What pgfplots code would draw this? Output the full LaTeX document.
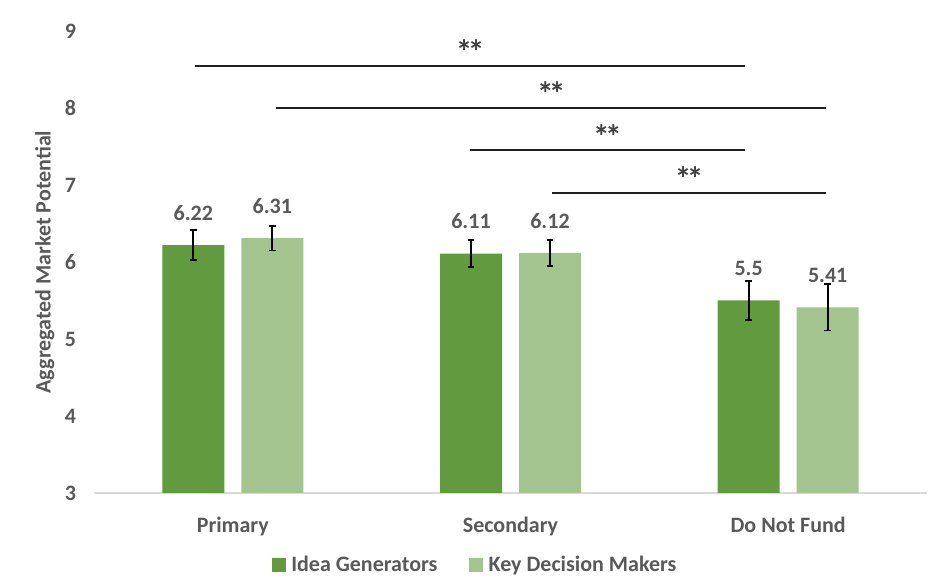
\documentclass[border=0pt]{standalone}
\usepackage{fontspec}
\setmainfont{Carlito}
\usepackage{pgfplots}
\pgfplotsset{compat=1.18}

\definecolor{ideagreen}{HTML}{629B3F}
\definecolor{keygreen}{HTML}{A3C48F}
\definecolor{txt}{HTML}{595959}
\definecolor{startxt}{HTML}{404040}
\definecolor{axgray}{HTML}{D9D9D9}
\definecolor{sig}{HTML}{1F1F1F}

\newcommand{\lbl}{\fontsize{16.5}{19}\selectfont\bfseries}
\newcommand{\sigfont}{\fontsize{25}{28}\selectfont\bfseries}
\newcommand{\sigstars}{*\kern-3.5pt*}

\pgfplotsset{
  barplot/.style={
    draw=none, nodes near coords,
    every node near coord/.append style={font=\lbl, text=txt, anchor=base, yshift=18.5pt},
    error bars/.cd, y dir=both, y explicit,
    error bar style={black, line width=1.4pt},
    error mark options={rotate=90, mark size=2.6pt, line width=1.4pt, black},
  },
  sigline/.style={sharp plot, sig, line width=1.3pt, mark=none, forget plot},
}

\begin{document}
\begin{tikzpicture}
\begin{axis}[
  name=ax,
  scale only axis, width=624.75pt, height=346.5pt,
  xmin=-0.5, xmax=2.5, ymin=3, ymax=9,
  ybar=12.75pt, bar width=46.5pt,
  axis lines*=left,
  x axis line style={draw=axgray, line width=1.5pt},
  y axis line style={draw=none},
  tick style={draw=none},
  xtick={0,1,2}, xticklabels={Primary,Secondary,Do Not Fund},
  ytick={3,4,...,9},
  /pgf/number format/assume math mode=true,
  tick label style={font=\lbl, text=txt},
  yticklabel style={xshift=-10pt},
  xticklabel style={anchor=base, yshift=-25.5pt},
  ylabel={Aggregated Market Potential},
  ylabel style={at={(axis description cs:-0.059,0.5)}, anchor=center, font=\lbl, text=txt},
  clip=false,
  legend columns=2,
  legend style={at={(axis description cs:0.458,-0.156)}, anchor=center,
    draw=none, font=\lbl, text=txt, inner sep=0pt,
    /tikz/every even column/.append style={column sep=22pt}},
  legend image code/.code={\fill[#1] (0pt,-5.25pt) rectangle (10.5pt,5.25pt);
    \path (12.5pt,0pt);},
]

% bars: Idea Generators / Key Decision Makers
\addplot[fill=ideagreen, barplot]
  coordinates {(0,6.22) +- (0,0.19) (1,6.11) +- (0,0.17) (2,5.50) +- (0,0.255)};
\addlegendentry{Idea Generators}

\addplot[fill=keygreen, barplot]
  coordinates {(0,6.31) +- (0,0.16) (1,6.12) +- (0,0.17) (2,5.41) +- (0,0.30)};
\addlegendentry{Key Decision Makers}

% significance brackets
\addplot[sigline] coordinates {(-0.135,8.55) (1.844,8.55)}
  node[pos=0.5, anchor=base, yshift=1.5pt, font=\sigfont, text=startxt] {\sigstars};
\addplot[sigline] coordinates {(0.156,8.00) (2.138,8.00)}
  node[pos=0.5, anchor=base, yshift=1.5pt, font=\sigfont, text=startxt] {\sigstars};
\addplot[sigline] coordinates {(0.854,7.45) (1.844,7.45)}
  node[pos=0.5, anchor=base, yshift=1.5pt, font=\sigfont, text=startxt] {\sigstars};
\addplot[sigline] coordinates {(1.149,6.90) (2.138,6.90)}
  node[pos=0.5, anchor=base, yshift=1.5pt, font=\sigfont, text=startxt] {\sigstars};

\end{axis}
\pgfresetboundingbox
\path[use as bounding box] (ax.south west) ++(-70.5pt,-65.25pt) rectangle ++(698.25pt,435pt);
\end{tikzpicture}
\end{document}
